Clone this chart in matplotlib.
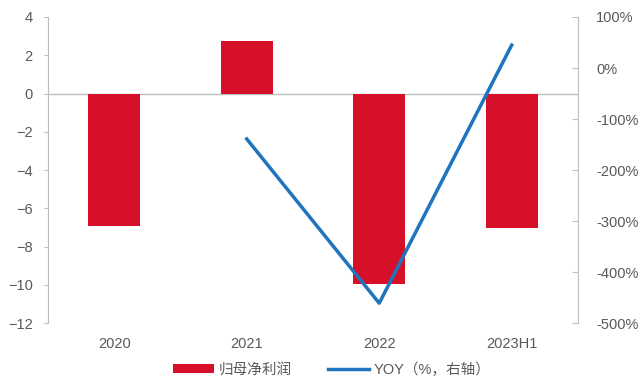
import matplotlib.pyplot as plt
import numpy as np

plt.rcParams['font.family'] = ['Liberation Sans', 'Noto Sans CJK SC', 'DejaVu Sans']

# 归母净利润（亿元）与同比增速
categories = ['2020', '2021', '2022', '2023H1']
net_profit = [-6.93, 2.75, -9.96, -7.03]
yoy_labels = ['2021', '2022', '2023H1']
yoy_pct = [-139, -461, 45]

bar_color = '#D7102A'
line_color = '#1F74BE'
text_color = '#595959'
axis_color = '#BFBFBF'

fig = plt.figure(figsize=(6.38, 3.81), dpi=100)
ax = fig.add_axes([0.0752, 0.152, 0.8307, 0.8034])
ax2 = ax.twinx()

x = np.arange(len(categories))
ax.bar(x, net_profit, width=0.39, color=bar_color, label='归母净利润', zorder=2)
ax.axhline(0, color=axis_color, lw=1, zorder=1)

xl = [categories.index(c) for c in yoy_labels]
ax2.plot(xl, yoy_pct, color=line_color, lw=2.5, label='YOY（%，右轴）', zorder=3)

ax.set_xlim(-0.5, len(categories) - 0.5)
ax.set_ylim(-12, 4)
ax.set_yticks(np.arange(-12, 5, 2))
ax2.set_ylim(-500, 100)
ax2.set_yticks(np.arange(-500, 101, 100))
ax2.set_yticklabels([f'{v}%' for v in range(-500, 101, 100)])

ax.set_xticks(x)
ax.set_xticklabels(categories)

for s in ['top', 'bottom', 'right']:
    ax.spines[s].set_visible(False)
for s in ['top', 'bottom', 'left']:
    ax2.spines[s].set_visible(False)
ax.spines['left'].set_color(axis_color)
ax2.spines['right'].set_color(axis_color)

ax.tick_params(axis='x', length=0, pad=10, labelsize=10.5, labelcolor=text_color)
ax.tick_params(axis='y', direction='out', length=3, color=axis_color, pad=8,
               labelsize=10.5, labelcolor=text_color)
ax2.tick_params(axis='y', direction='in', length=4, color=axis_color, pad=13,
                labelsize=10.5, labelcolor=text_color)

h1, l1 = ax.get_legend_handles_labels()
h2, l2 = ax2.get_legend_handles_labels()
fig.legend(h1 + h2, l1 + l2, loc='center', bbox_to_anchor=(0.52, 0.03), ncol=2,
           frameon=False, fontsize=10.5, labelcolor=text_color,
           handlelength=2.8, handleheight=0.6, columnspacing=2.5, handletextpad=0.3)

fig.savefig('out.png', dpi=100)
